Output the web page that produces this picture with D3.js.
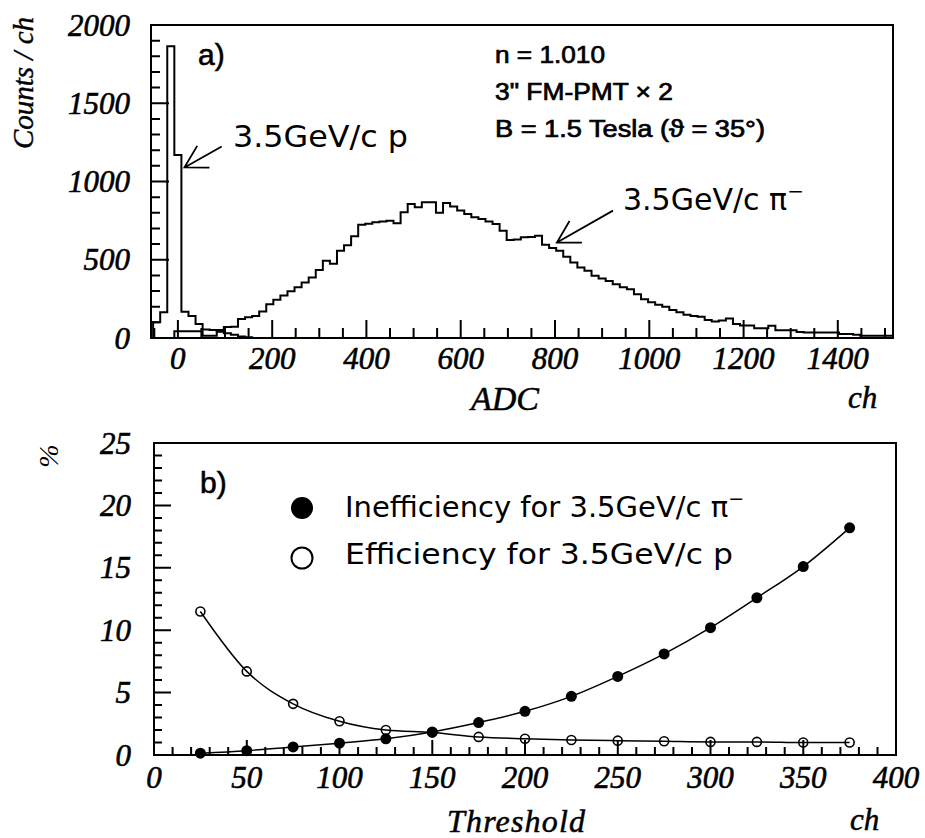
<!DOCTYPE html>
<html><head><meta charset="utf-8">
<script src="https://cdn.jsdelivr.net/npm/d3@7"></script>
<style>body{margin:0;background:#fff}</style>
</head><body>
<svg id="chart" width="925" height="838" xmlns="http://www.w3.org/2000/svg"></svg>
<script>
// ---------- DATA ----------
// Panel a) ADC histograms, bin width 15 ch, first bin centred at -45 ch
const binWidth = 15;
const firstBinCenter = -45;
const pionCounts = [0,0,0,43,43,43,43,15,15,51,
  70,72,122,132,140,170,215,245,272,298,
  325,355,386,435,494,474,558,592,650,724,
  730,739,744,750,733,803,857,835,867,867,
  800,863,840,814,793,771,760,745,729,686,
  626,630,643,645,654,596,575,558,519,483,
  451,429,397,380,365,344,325,312,280,248,
  228,213,200,179,164,149,140,136,115,106,
  112,125,90,80,80,62,62,78,50,50,
  50,38,35,35,35,35,35,25,25,20,
  15,15,15,15,15];
const protonCounts = [100,165,1865,1170,167,140,90,55,51,40,30,20,10,5];
const adcMajorTicks = [0,200,400,600,800,1000,1200,1400];
const adcMinorTicks = [-50,50,100,150,250,300,350,450,500,550,650,700,750,850,900,950,1050,1100,1150,1250,1300,1350,1450,1500];
const countMajorTicks = [0,500,1000,1500,2000];
const countMinorTicks = [100,200,300,400,600,700,800,900,1100,1200,1300,1400,1600,1700,1800,1900];

// Panel b) threshold scan
const thresholds     = [25,50,75,100,125,150,175,200,225,250,275,300,325,350,375];
const inefficiencyPi = [0.15,0.35,0.65,0.95,1.3,1.85,2.6,3.5,4.7,6.3,8.1,10.2,12.6,15.1,18.2];
const efficiencyP    = [11.5,6.7,4.1,2.7,2.0,1.8,1.45,1.3,1.2,1.15,1.1,1.05,1.05,1.0,1.0];
const thrMajorTicks = [0,50,100,150,200,250,300,350,400];
const thrMinorTicks = [10,20,30,40,60,70,80,90,110,120,130,140,160,170,180,190,210,220,230,240,260,270,280,290,310,320,330,340,360,370,380,390];
const pctMajorTicks = [0,5,10,15,20,25];
const pctMinorTicks = [1,2,3,4,6,7,8,9,11,12,13,14,16,17,18,19,21,22,23,24];

// ---------- DRAW ----------
const svg = d3.select('#chart');
const ink = 'black';
const serif = '"Liberation Serif","Times New Roman",serif';
const sans = '"Liberation Sans",Arial,sans-serif';
const round = '"DejaVu Sans",sans-serif';

const xA = d3.scaleLinear().domain([-57,1517]).range([151,893]);
const yA = d3.scaleLinear().domain([0,2000]).range([338,25]);
const xB = d3.scaleLinear().domain([0,400]).range([154,896]);
const yB = d3.scaleLinear().domain([0,25]).range([755,443]);

function xLabels(x, baseline, vals){
  svg.append('g').selectAll('text').data(vals).join('text')
    .attr('x',d=>x(d)).attr('y',baseline).attr('text-anchor','middle')
    .attr('font-family',serif).attr('font-style','italic').attr('font-size',31)
    .attr('fill',ink).attr('stroke',ink).attr('stroke-width',0.6).text(d=>d);
}
function yLabels(y, right, vals){
  svg.append('g').selectAll('text').data(vals).join('text')
    .attr('x',right).attr('y',d=>y(d)).attr('dy','0.34em').attr('text-anchor','end')
    .attr('font-family',serif).attr('font-style','italic').attr('font-size',31)
    .attr('fill',ink).attr('stroke',ink).attr('stroke-width',0.6).text(d=>d);
}

// ---- Panel a ----
xLabels(xA, 369, adcMajorTicks);
yLabels(yA, 130, countMajorTicks);

svg.append('clipPath').attr('id','clipA').append('rect')
  .attr('x',xA.range()[0]).attr('y',yA.range()[1])
  .attr('width',xA.range()[1]-xA.range()[0]).attr('height',yA.range()[0]-yA.range()[1]);

function histPoints(counts){
  const pts=[{x:firstBinCenter-binWidth/2,y:0}];
  counts.forEach((c,i)=>pts.push({x:firstBinCenter+i*binWidth-binWidth/2,y:c}));
  const end=firstBinCenter+counts.length*binWidth-binWidth/2;
  pts.push({x:end,y:counts[counts.length-1]});
  pts.push({x:end,y:0});
  return pts;
}
const stepLine = d3.line().x(d=>xA(d.x)).y(d=>yA(d.y)).curve(d3.curveStepAfter);
const hg = svg.append('g').attr('clip-path','url(#clipA)');
hg.append('path').attr('d',stepLine(histPoints(pionCounts)))
  .attr('fill','none').attr('stroke',ink).attr('stroke-width',2);
hg.append('path').attr('d',stepLine(histPoints(protonCounts)))
  .attr('fill','none').attr('stroke',ink).attr('stroke-width',2);

svg.append('rect').attr('x',xA.range()[0]).attr('y',yA.range()[1])
  .attr('width',xA.range()[1]-xA.range()[0]).attr('height',yA.range()[0]-yA.range()[1])
  .attr('fill','none').attr('stroke',ink).attr('stroke-width',2);

function arrow(tip, tail){
  const p1=[xA(tip[0]),yA(tip[1])], p0=[xA(tail[0]),yA(tail[1])];
  const ang=Math.atan2(p0[1]-p1[1],p0[0]-p1[0]);
  const L=25, s=Math.PI/6;
  const b1=[p1[0]+L*Math.cos(ang+s),p1[1]+L*Math.sin(ang+s)];
  const b2=[p1[0]+L*Math.cos(ang-s),p1[1]+L*Math.sin(ang-s)];
  svg.append('path').attr('d',`M${p0}L${p1}M${b1}L${p1}L${b2}`)
    .attr('fill','none').attr('stroke',ink).attr('stroke-width',1.8);
}
arrow([14,1090],[93,1224]);
arrow([804,610],[923,814]);

svg.append('text').attr('x',233).attr('y',147).attr('font-family',round).attr('font-size',31)
  .attr('fill',ink).attr('textLength',175).attr('lengthAdjust','spacingAndGlyphs').text('3.5GeV/c p');
const piLab = svg.append('text').attr('x',623).attr('y',210).attr('font-family',round).attr('font-size',30)
  .attr('fill',ink);
piLab.append('tspan').text('3.5GeV/c π');
piLab.append('tspan').attr('dy',-12).attr('font-size',20).text('−');

svg.append('text').attr('x',198).attr('y',65).attr('font-family',sans).attr('font-size',30)
  .attr('fill',ink).attr('stroke',ink).attr('stroke-width',0.6).text('a)');
[['n = 1.010',63,110],['3" FM-PMT × 2',100,178],['B = 1.5 Tesla (ϑ = 35°)',137,270]].forEach(([t,y,w])=>{
  svg.append('text').attr('x',495).attr('y',y).attr('font-family',sans)
    .attr('font-size',23).attr('fill',ink).attr('stroke',ink).attr('stroke-width',0.7)
    .attr('textLength',w).attr('lengthAdjust','spacingAndGlyphs').text(t);
});
svg.append('text').attr('transform','translate(33,83) rotate(-90)').attr('text-anchor','middle')
  .attr('font-family',serif).attr('font-style','italic').attr('font-size',29).attr('fill',ink)
  .attr('stroke',ink).attr('stroke-width',0.4).text('Counts / ch');
svg.append('text').attr('x',505).attr('y',410).attr('text-anchor','middle')
  .attr('font-family',serif).attr('font-style','italic').attr('font-size',34).attr('fill',ink)
  .attr('stroke',ink).attr('stroke-width',0.5).text('ADC');
svg.append('text').attr('x',848).attr('y',408)
  .attr('font-family',serif).attr('font-style','italic').attr('font-size',31).attr('fill',ink)
  .attr('stroke',ink).attr('stroke-width',0.5).text('ch');

// ---- Panel b ----
xLabels(xB, 788, thrMajorTicks);
yLabels(yB, 131, pctMajorTicks);

svg.append('rect').attr('x',xB.range()[0]).attr('y',yB.range()[1])
  .attr('width',xB.range()[1]-xB.range()[0]).attr('height',yB.range()[0]-yB.range()[1])
  .attr('fill','none').attr('stroke',ink).attr('stroke-width',2);

const lineB = d3.line().x((d,i)=>xB(thresholds[i])).y(d=>yB(d)).curve(d3.curveMonotoneX);
svg.append('path').attr('d',lineB(efficiencyP)).attr('fill','none').attr('stroke',ink).attr('stroke-width',1.5);
svg.append('path').attr('d',lineB(inefficiencyPi)).attr('fill','none').attr('stroke',ink).attr('stroke-width',1.5);
svg.append('g').selectAll('circle').data(efficiencyP).join('circle')
  .attr('cx',(d,i)=>xB(thresholds[i])).attr('cy',d=>yB(d)).attr('r',4.5)
  .attr('fill','none').attr('stroke',ink).attr('stroke-width',1.6);
svg.append('g').selectAll('circle').data(inefficiencyPi).join('circle')
  .attr('cx',(d,i)=>xB(thresholds[i])).attr('cy',d=>yB(d)).attr('r',5.5).attr('fill',ink);

svg.append('text').attr('x',200).attr('y',493).attr('font-family',sans).attr('font-size',30)
  .attr('fill',ink).attr('stroke',ink).attr('stroke-width',0.6).text('b)');
svg.append('circle').attr('cx',302).attr('cy',508).attr('r',11).attr('fill',ink);
svg.append('circle').attr('cx',302).attr('cy',558).attr('r',10.5).attr('fill','none').attr('stroke',ink).attr('stroke-width',2);
const l1 = svg.append('text').attr('x',345).attr('y',517).attr('font-family',round).attr('font-size',29).attr('fill',ink);
l1.append('tspan').text('Inefficiency for 3.5GeV/c π');
l1.append('tspan').attr('dy',-12).attr('font-size',19).text('−');
svg.append('text').attr('x',345).attr('y',564).attr('font-family',round).attr('font-size',29).attr('fill',ink)
  .attr('textLength',388).attr('lengthAdjust','spacingAndGlyphs').text('Efficiency for 3.5GeV/c p');

svg.append('text').attr('transform','translate(58,456) rotate(-90)').attr('text-anchor','middle')
  .attr('font-family',serif).attr('font-style','italic').attr('font-size',28).attr('fill',ink).text('%');
svg.append('text').attr('x',447).attr('y',832)
  .attr('font-family',serif).attr('font-style','italic').attr('font-size',32).attr('fill',ink)
  .attr('stroke',ink).attr('stroke-width',0.5).attr('textLength',138).text('Threshold');
svg.append('text').attr('x',850).attr('y',830)
  .attr('font-family',serif).attr('font-style','italic').attr('font-size',31).attr('fill',ink)
  .attr('stroke',ink).attr('stroke-width',0.5).text('ch');

// ---- tick marks, drawn last (inward), one path per axis ----
function tickPath(d){
  svg.append('path').attr('d', d).attr('fill','none')
    .attr('stroke','#000').attr('stroke-width', 2);
}
function xTickD(x, y0, vals, len){ return vals.map(v => 'M' + x(v).toFixed(1) + ' ' + y0 + ' L' + x(v).toFixed(1) + ' ' + (y0 - len)).join(' '); }
function yTickD(x0, y, vals, len){ return vals.map(v => 'M' + x0 + ' ' + y(v).toFixed(1) + ' L' + (x0 + len) + ' ' + y(v).toFixed(1)).join(' '); }
tickPath(xTickD(xA, 338, adcMinorTicks, 10) + ' ' + xTickD(xA, 338, adcMajorTicks, 18));
tickPath(yTickD(151, yA, countMinorTicks, 9) + ' ' + yTickD(151, yA, countMajorTicks, 18));
tickPath(xTickD(xB, 755, thrMinorTicks, 8) + ' ' + xTickD(xB, 755, thrMajorTicks, 15));
tickPath(yTickD(154, yB, pctMinorTicks, 8) + ' ' + yTickD(154, yB, pctMajorTicks, 17));
</script>
</body></html>
